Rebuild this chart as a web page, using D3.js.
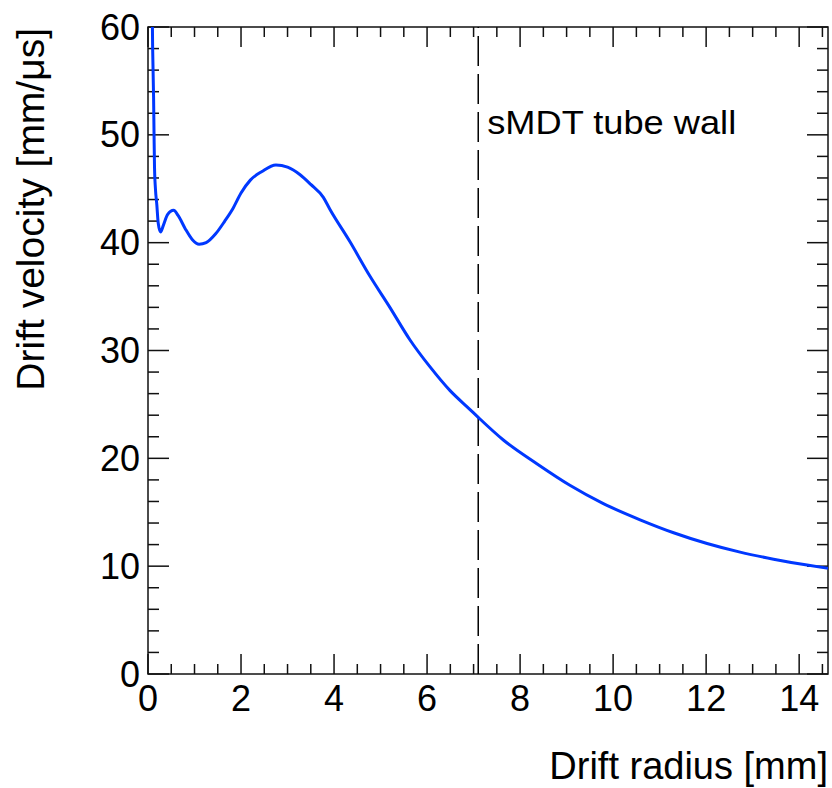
<!DOCTYPE html>
<html>
<head>
<meta charset="utf-8">
<script src="https://cdn.jsdelivr.net/npm/d3@7"></script>
<style>
  html, body { margin: 0; padding: 0; background: #fff; }
  svg { display: block; }
  text { font-family: "Liberation Sans", Arial, Helvetica, sans-serif; fill: #000; }
</style>
</head>
<body>
<svg id="chart" width="832" height="788"></svg>
<script>
// Drift radius [mm]
const radius = [0.08, 0.10, 0.12, 0.13, 0.14, 0.16, 0.19, 0.22, 0.27, 0.33, 0.42, 0.55, 0.65, 0.80, 0.95,
  1.10, 1.25, 1.45, 1.65, 1.83, 2.00, 2.20, 2.45, 2.75, 3.00, 3.27, 3.50, 3.77, 3.91, 4.34, 4.77, 5.20,
  5.63, 6.06, 6.49, 6.93, 7.10, 7.64, 8.36, 9.07, 9.79, 10.58, 11.30, 12.02, 12.73, 13.45, 14.17, 14.62];
// Drift velocity [mm/us]
const velocity = [66.0, 58.0, 53.5, 50.0, 47.0, 45.0, 43.5, 41.8, 41.0, 41.6, 42.6, 43.0, 42.5, 41.3, 40.3,
  39.85, 40.0, 40.8, 42.0, 43.2, 44.6, 45.8, 46.6, 47.2, 47.0, 46.3, 45.4, 44.2, 43.1, 40.1, 36.9, 34.0,
  31.0, 28.5, 26.3, 24.5, 23.8, 21.7, 19.5, 17.5, 15.8, 14.3, 13.1, 12.1, 11.3, 10.65, 10.1, 9.8];

const xDomain = [0, 14.62];
const yDomain = [0, 60];
const xMajorTicks = [0, 2, 4, 6, 8, 10, 12, 14];
const yMajorTicks = [0, 10, 20, 30, 40, 50, 60];
const tubeWall = 7.1;
const tubeWallLabel = "sMDT tube wall";
const xTitle = "Drift radius [mm]";
const yTitle = "Drift velocity [mm/\u03BCs]";

const plot = { left: 148, right: 828, top: 27, bottom: 674 };
const svg = d3.select("#chart");

const x = d3.scaleLinear().domain(xDomain).range([plot.left, plot.right]);
const y = d3.scaleLinear().domain(yDomain).range([plot.bottom, plot.top]);

const xMinor = d3.range(0, xDomain[1] + 1e-9, 0.5).filter(v => !xMajorTicks.includes(v));
const yMinor = d3.range(0, yDomain[1] + 1e-9, 2).filter(v => !yMajorTicks.includes(v));

// clip region for the curve
svg.append("defs").append("clipPath").attr("id", "plotClip")
  .append("rect")
  .attr("x", plot.left).attr("y", plot.top)
  .attr("width", plot.right - plot.left).attr("height", plot.bottom - plot.top);

// ticks on all four sides
const tickG = svg.append("g").attr("stroke", "#111").attr("stroke-width", 1.5);
function vTicks(vals, len, yBase, dir) {
  tickG.selectAll(null).data(vals).join("line")
    .attr("x1", d => x(d)).attr("x2", d => x(d))
    .attr("y1", yBase).attr("y2", yBase + dir * len);
}
function hTicks(vals, len, xBase, dir) {
  tickG.selectAll(null).data(vals).join("line")
    .attr("y1", d => y(d)).attr("y2", d => y(d))
    .attr("x1", xBase).attr("x2", xBase + dir * len);
}
vTicks(xMajorTicks, 20, plot.bottom, -1);
vTicks(xMinor, 10, plot.bottom, -1);
vTicks(xMajorTicks, 20, plot.top, 1);
vTicks(xMinor, 10, plot.top, 1);
hTicks(yMajorTicks, 21, plot.left, 1);
hTicks(yMinor, 11, plot.left, 1);
hTicks(yMajorTicks, 21, plot.right, -1);
hTicks(yMinor, 11, plot.right, -1);

// frame
svg.append("rect")
  .attr("x", plot.left).attr("y", plot.top)
  .attr("width", plot.right - plot.left).attr("height", plot.bottom - plot.top)
  .attr("fill", "none").attr("stroke", "#111").attr("stroke-width", 1.5);

// tick labels
svg.append("g").selectAll("text").data(xMajorTicks).join("text")
  .attr("x", d => x(d)).attr("y", plot.bottom + 37)
  .attr("text-anchor", "middle").attr("font-size", 36)
  .text(d => d);
svg.append("g").selectAll("text").data(yMajorTicks).join("text")
  .attr("x", plot.left - 8).attr("y", d => y(d) + 12.5)
  .attr("text-anchor", "end").attr("font-size", 36)
  .text(d => d);

// axis titles
svg.append("text")
  .attr("x", plot.right).attr("y", 779)
  .attr("text-anchor", "end").attr("font-size", 38)
  .text(xTitle);
svg.append("text")
  .attr("transform", `translate(44, ${plot.top + 1}) rotate(-90)`)
  .attr("text-anchor", "end").attr("font-size", 39)
  .text(yTitle);

// tube wall marker
svg.append("line")
  .attr("x1", x(tubeWall)).attr("x2", x(tubeWall))
  .attr("y1", plot.bottom).attr("y2", plot.top)
  .attr("stroke", "#000").attr("stroke-width", 1.5)
  .attr("stroke-dasharray", "30,8");
svg.append("text")
  .attr("x", x(tubeWall) + 9).attr("y", 134)
  .attr("font-size", 33)
  .attr("textLength", 249)
  .attr("lengthAdjust", "spacingAndGlyphs")
  .text(tubeWallLabel);

// velocity curve
const pts = radius.map((r, i) => [r, velocity[i]]);
const line = d3.line().x(d => x(d[0])).y(d => y(d[1])).curve(d3.curveMonotoneX);
svg.append("path")
  .datum(pts)
  .attr("clip-path", "url(#plotClip)")
  .attr("d", line)
  .attr("fill", "none")
  .attr("stroke", "#0038ff")
  .attr("stroke-width", 3);
</script>
</body>
</html>
